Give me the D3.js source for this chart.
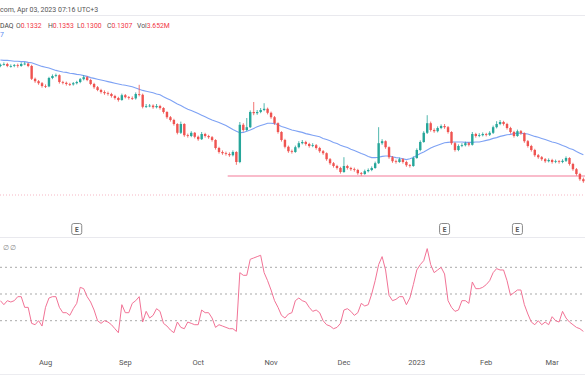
<!DOCTYPE html>
<html>
<head>
<meta charset="utf-8">
<script src="https://cdn.jsdelivr.net/npm/d3@7"></script>
<style>
    html, body { margin: 0; padding: 0; background: #fff; }
    svg { display: block; font-family: Roboto, "Liberation Sans", sans-serif; }
</style>
</head>
<body>
<div id="chart"></div>
<script>
// daily candles, mid Jul 2022 .. mid Mar 2023
var openP = [
    .435,.438,.440,.435,.435,.437,.435,.440,.441,.435,
    .403,.397,.392,.385,.384,.405,.410,.412,.395,.393,
    .390,.389,.392,.395,.402,.407,.400,.390,.382,.375,
    .370,.367,.365,.360,.355,.350,.362,.357,.355,.354,
    .365,.363,.333,.335,.336,.332,.335,.330,.320,.307,
    .300,.290,.268,.290,.262,.260,.268,.258,.252,.265,
    .260,.257,.250,.230,.220,.217,.215,.212,.220,.195,
    .288,.275,.282,.320,.317,.320,.325,.328,.318,.307,
    .292,.270,.250,.233,.222,.220,.232,.242,.245,.240,
    .235,.237,.230,.222,.217,.202,.192,.185,.180,.170,
    .185,.180,.177,.175,.167,.165,.172,.175,.180,.192,
    .242,.247,.232,.207,.197,.195,.202,.195,.187,.185,
    .205,.225,.245,.268,.292,.275,.272,.280,.285,.282,
    .270,.242,.225,.235,.237,.242,.238,.265,.260,.262,
    .265,.263,.268,.282,.290,.295,.290,.280,.270,.260,
    .272,.267,.247,.235,.225,.212,.207,.202,.197,.200,
    .195,.197,.195,.198,.205,.190,.177,.165,.152
];
var highP = [
    .441,.444,.443,.439,.440,.441,.444,.445,.443,.438,
    .406,.400,.395,.389,.408,.414,.416,.414,.398,.396,
    .393,.395,.398,.405,.412,.410,.403,.393,.385,.378,
    .374,.371,.368,.363,.358,.366,.365,.360,.359,.369,
    .388,.366,.340,.340,.339,.340,.338,.332,.322,.310,
    .303,.292,.296,.292,.266,.272,.270,.261,.270,.268,
    .263,.260,.252,.233,.224,.221,.219,.224,.222,.295,
    .292,.305,.324,.345,.325,.330,.342,.331,.321,.310,
    .294,.272,.253,.236,.226,.236,.247,.250,.248,.243,
    .242,.240,.233,.225,.219,.205,.195,.188,.183,.207,
    .188,.183,.181,.178,.170,.176,.179,.184,.196,.282,
    .252,.249,.234,.210,.201,.206,.205,.198,.190,.209,
    .229,.249,.272,.312,.296,.279,.284,.289,.290,.285,
    .272,.245,.239,.242,.246,.245,.270,.268,.267,.269,
    .268,.272,.286,.297,.300,.298,.293,.283,.273,.276,
    .275,.269,.250,.238,.228,.215,.210,.205,.204,.203,
    .201,.200,.202,.209,.207,.193,.180,.168,.156
];
var lowP = [
    .432,.436,.432,.431,.432,.431,.433,.437,.432,.400,
    .393,.388,.381,.380,.382,.402,.407,.391,.389,.386,
    .385,.386,.389,.392,.399,.397,.387,.378,.372,.366,
    .363,.361,.356,.351,.346,.348,.354,.351,.350,.351,
    .359,.329,.330,.332,.328,.329,.326,.316,.303,.296,
    .286,.264,.265,.258,.256,.257,.254,.248,.250,.256,
    .253,.246,.226,.216,.213,.211,.208,.209,.188,.192,
    .271,.272,.280,.312,.313,.317,.322,.314,.303,.288,
    .266,.246,.229,.218,.216,.218,.229,.239,.236,.231,
    .232,.226,.218,.213,.198,.188,.181,.176,.166,.168,
    .176,.173,.171,.163,.161,.163,.169,.172,.178,.190,
    .238,.228,.203,.193,.191,.193,.191,.183,.181,.183,
    .203,.222,.243,.265,.271,.268,.269,.277,.278,.266,
    .238,.221,.222,.232,.234,.234,.236,.256,.257,.259,
    .259,.260,.265,.279,.287,.286,.276,.266,.256,.258,
    .263,.243,.231,.221,.208,.203,.198,.193,.194,.191,
    .192,.191,.192,.195,.186,.173,.161,.148,.143
];
var closeP = [
    .438,.440,.435,.435,.437,.435,.440,.441,.435,.403,
    .397,.392,.385,.384,.405,.410,.412,.395,.393,.390,
    .389,.392,.395,.402,.407,.400,.390,.382,.375,.370,
    .367,.365,.360,.355,.350,.362,.357,.355,.354,.365,
    .363,.333,.335,.336,.332,.335,.330,.320,.307,.300,
    .290,.268,.290,.262,.260,.268,.258,.252,.265,.260,
    .257,.250,.230,.220,.217,.215,.212,.220,.195,.288,
    .275,.282,.320,.317,.320,.325,.328,.318,.307,.292,
    .270,.250,.233,.222,.220,.232,.242,.245,.240,.235,
    .237,.230,.222,.217,.202,.192,.185,.180,.170,.185,
    .180,.177,.175,.167,.165,.172,.175,.180,.192,.242,
    .247,.232,.207,.197,.195,.202,.195,.187,.185,.205,
    .225,.245,.268,.292,.275,.272,.280,.285,.282,.270,
    .242,.225,.235,.237,.242,.238,.265,.260,.262,.265,
    .263,.268,.282,.290,.295,.290,.280,.270,.260,.272,
    .267,.247,.235,.225,.212,.207,.202,.197,.200,.195,
    .197,.195,.198,.205,.190,.177,.165,.152,.147
];
var maValues = [
    .450,.449,.449,.448,.447,.447,.446,.446,.444,.443,
    .440,.437,.434,.432,.430,.427,.424,.422,.420,.419,
    .417,.416,.414,.413,.411,.409,.406,.404,.402,.400,
    .398,.396,.394,.392,.390,.388,.387,.385,.383,.380,
    .377,.374,.372,.370,.368,.365,.363,.358,.354,.350,
    .345,.340,.336,.331,.327,.324,.320,.316,.312,.308,
    .304,.300,.297,.294,.290,.286,.281,.276,.272,.268,
    .269,.272,.275,.279,.283,.286,.289,.292,.292,.291,
    .288,.284,.281,.278,.275,.273,.271,.269,.266,.264,
    .262,.260,.258,.254,.251,.248,.244,.241,.237,.234,
    .231,.227,.224,.220,.216,.213,.209,.206,.206,.207,
    .209,.210,.210,.208,.206,.205,.203,.201,.203,.206,
    .211,.216,.220,.225,.230,.234,.237,.240,.243,.244,
    .245,.245,.245,.245,.244,.244,.244,.245,.245,.247,
    .249,.251,.254,.256,.259,.261,.263,.264,.266,.267,
    .267,.266,.265,.262,.259,.257,.254,.251,.248,.245,
    .243,.240,.236,.233,.229,.226,.221,.217,.213
];
var rsiValues = [
    45,42,45,44,45,48,48,40,40,28,
    27,30,26,40,47,48,48,40,36,36,
    34,39,43,55,54,48,44,38,30,28,
    30,29,27,24,21,42,36,36,43,45,
    48,29,37,32,34,39,37,28,26,23,
    21,29,25,24,29,28,27,27,38,36,
    36,32,25,27,26,25,24,24,22,66,
    64,64,76,77,78,79,66,60,53,45,
    40,34,32,35,36,45,47,45,44,40,
    37,38,36,30,27,26,24,25,28,38,
    39,37,34,36,43,41,42,50,60,72,
    78,68,49,45,46,48,48,42,47,57,
    68,72,75,84,72,66,68,70,65,45,
    40,37,38,45,45,43,59,54,54,55,
    57,60,66,69,68,68,60,49,51,53,
    53,42,35,29,27,30,27,29,27,33,
    30,29,37,32,29,27,25,24,22
];

var tickLabels = ['Aug', 'Sep', 'Oct', 'Nov', 'Dec', '2023', 'Feb', 'Mar'];
var tickIndex = [13, 36, 57, 78, 99, 120, 140, 159];
var earningsIndex = [22, 128, 149];
var rsiLevels = [70, 50, 30];
var supportLevel = 0.16;
var supportFrom = 66;
var priceLine = 0.1125;
var legendKeys = ['O', 'H', 'L', 'C', 'Vol'];
var legendVals = ['0.1332', '0.1353', '0.1300', '0.1307', '3.652M'];

var width = 585, height = 390;
var upColor = '#26a69a', downColor = '#ef5350';

var svg = d3.select('#chart').append('svg')
    .attr('width', width)
    .attr('height', height);

svg.append('rect').attr('width', width).attr('height', height).attr('fill', '#fff');

var idx = d3.range(closeP.length);

var x = d3.scaleBand()
    .domain(idx)
    .range([-1.335, 585.1])
    .padding(0);
var cx = function(i) { return x(i) + x.bandwidth() / 2; };

var y = d3.scaleLinear()
    .domain([0.1125, 0.45])
    .range([195, 60]);

var yRsi = d3.scaleLinear()
    .domain([30, 70])
    .range([320.7, 267.3]);

// header
svg.append('text')
    .attr('x', 0).attr('y', 11.5)
    .attr('font-size', 7).attr('fill', '#555')
    .text('com, Apr 03, 2023 07:16 UTC+3');

svg.append('line')
    .attr('x1', 0).attr('x2', width)
    .attr('y1', 15.5).attr('y2', 15.5)
    .attr('stroke', '#e9e9ee');

var legend = svg.append('g').attr('font-size', 6.8);
legend.append('text').attr('x', 0).attr('y', 27.5).attr('fill', '#444').text('DAQ');
var legendX = [16, 48, 77, 107, 137];
legendKeys.forEach(function(k, i) {
    var t = legend.append('text').attr('x', legendX[i]).attr('y', 27.5);
    t.append('tspan').attr('fill', '#555').text(k);
    t.append('tspan').attr('fill', '#f23645').text(legendVals[i]);
});
svg.append('text')
    .attr('x', 0).attr('y', 37)
    .attr('font-size', 6.8).attr('fill', '#5b8def')
    .text('7');

// price pane
svg.append('line')
    .attr('x1', 0).attr('x2', width)
    .attr('y1', y(priceLine)).attr('y2', y(priceLine))
    .attr('stroke', '#f6b7c4')
    .attr('stroke-dasharray', '1,2');

svg.append('line')
    .attr('x1', x(supportFrom)).attr('x2', width)
    .attr('y1', y(supportLevel)).attr('y2', y(supportLevel))
    .attr('stroke', '#f9bccb')
    .attr('stroke-width', 2);

svg.append('path')
    .datum(idx)
    .attr('fill', 'none')
    .attr('stroke', '#7ea2f4')
    .attr('stroke-width', 1.1)
    .attr('d', d3.line()
        .x(function(i) { return cx(i); })
        .y(function(i) { return y(maValues[i]); }));

var candles = svg.append('g').selectAll('g')
    .data(idx).enter().append('g')
    .attr('fill', function(i) { return closeP[i] >= openP[i] ? upColor : downColor; })
    .attr('stroke', function(i) { return closeP[i] >= openP[i] ? upColor : downColor; });

candles.append('line')
    .attr('x1', cx).attr('x2', cx)
    .attr('y1', function(i) { return y(highP[i]); })
    .attr('y2', function(i) { return y(lowP[i]); })
    .attr('stroke-width', 0.8);

candles.append('rect')
    .attr('stroke', 'none')
    .attr('x', function(i) { return cx(i) - 1.2; })
    .attr('width', 2.4)
    .attr('y', function(i) { return y(Math.max(openP[i], closeP[i])); })
    .attr('height', function(i) {
        return Math.max(0.8, Math.abs(y(openP[i]) - y(closeP[i])));
    });

// earnings markers
var marks = svg.append('g').selectAll('g')
    .data(earningsIndex).enter().append('g')
    .attr('transform', function(i) { return 'translate(' + cx(i) + ',229)'; });
marks.append('rect')
    .attr('x', -5).attr('y', -5.5)
    .attr('width', 10).attr('height', 11)
    .attr('rx', 2)
    .attr('fill', '#fff')
    .attr('stroke', '#8a8a8a');
marks.append('text')
    .attr('text-anchor', 'middle')
    .attr('y', 2.5)
    .attr('font-size', 6.5)
    .attr('font-weight', 'bold')
    .attr('fill', '#555')
    .text('E');

svg.append('line')
    .attr('x1', 0).attr('x2', width)
    .attr('y1', 237.5).attr('y2', 237.5)
    .attr('stroke', '#e9e9ee');

// RSI pane
svg.append('text')
    .attr('x', 2.5).attr('y', 249.5)
    .attr('font-size', 6.5).attr('fill', '#888')
    .text('\u2205 \u2205');

svg.append('g').selectAll('line')
    .data(rsiLevels).enter().append('line')
    .attr('x1', 0).attr('x2', width)
    .attr('y1', yRsi).attr('y2', yRsi)
    .attr('stroke', '#a9a9a9')
    .attr('stroke-dasharray', '2,3');

svg.append('path')
    .datum(idx)
    .attr('fill', 'none')
    .attr('stroke', '#f27396')
    .attr('stroke-width', 1)
    .attr('d', d3.line()
        .x(function(i) { return cx(i); })
        .y(function(i) { return yRsi(rsiValues[i]); }));

// time axis
var xAxis = d3.axisBottom(x)
    .tickValues(tickIndex)
    .tickSize(0)
    .tickPadding(0)
    .tickFormat(function(d) { return tickLabels[tickIndex.indexOf(d)]; });

var gx = svg.append('g')
    .attr('transform', 'translate(0,359.5)')
    .call(xAxis);
gx.select('.domain').remove();
gx.selectAll('text')
    .attr('font-size', 7.5)
    .attr('font-family', 'Roboto, "Liberation Sans", sans-serif')
    .attr('fill', '#555');

svg.append('line')
    .attr('x1', 0).attr('x2', width)
    .attr('y1', 374.5).attr('y2', 374.5)
    .attr('stroke', '#ececf0');
</script>
</body>
</html>
